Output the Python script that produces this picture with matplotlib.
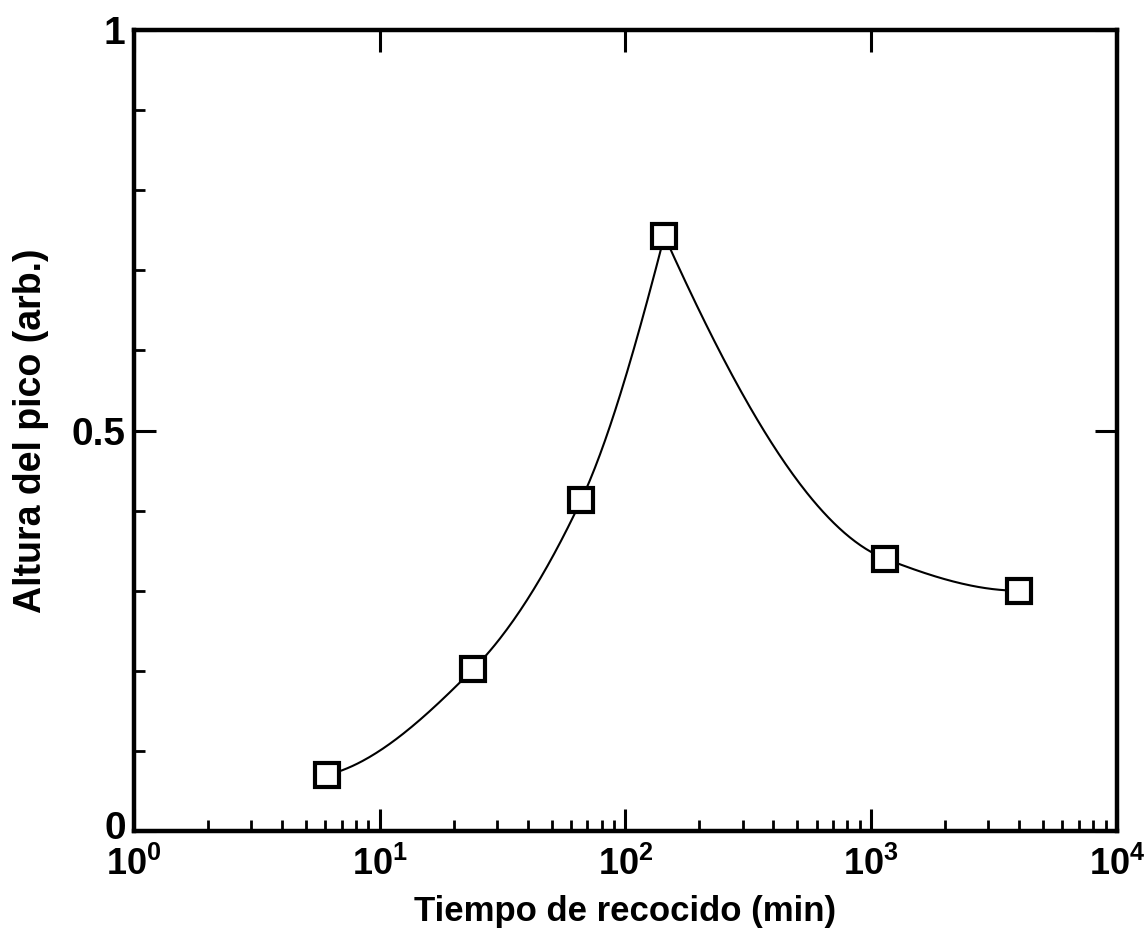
import numpy as np
import matplotlib
matplotlib.use("Agg")
import matplotlib.pyplot as plt
from matplotlib.ticker import FixedLocator
from matplotlib.transforms import ScaledTranslation

plt.rcParams['font.family'] = ['Liberation Sans', 'DejaVu Sans']
plt.rcParams['font.weight'] = 'bold'
plt.rcParams['mathtext.fontset'] = 'custom'
plt.rcParams['mathtext.rm'] = 'Liberation Sans:bold'
plt.rcParams['mathtext.default'] = 'rm'

# annealing time (min) and peak height (arb.)
tiempo = [6.1, 24, 66, 144, 1140, 4000]
altura = [0.070, 0.202, 0.413, 0.743, 0.340, 0.300]
pico = 3  # index of the maximum, curve is drawn as two monotone pieces

x_ticks = [1, 10, 100, 1000, 10000]
x_ticklabels = ['$10^{0}$', '$10^{1}$', '$10^{2}$', '$10^{3}$', '$10^{4}$']
y_ticks = [0, 0.5, 1]
y_ticklabels = ['0', '0.5', '1']


def pchip(x, y, xn):
    x = np.asarray(x, float)
    y = np.asarray(y, float)
    h = np.diff(x)
    dl = np.diff(y) / h
    n = len(x)
    d = np.zeros(n)
    for k in range(1, n - 1):
        if dl[k - 1] * dl[k] > 0:
            w1 = 2 * h[k] + h[k - 1]
            w2 = h[k] + 2 * h[k - 1]
            d[k] = (w1 + w2) / (w1 / dl[k - 1] + w2 / dl[k])

    def end(h0, h1, d0, d1):
        v = ((2 * h0 + h1) * d0 - h0 * d1) / (h0 + h1)
        if np.sign(v) != np.sign(d0):
            return 0.0
        if np.sign(d0) != np.sign(d1) and abs(v) > 3 * abs(d0):
            return 3 * d0
        return v

    d[0] = end(h[0], h[1], dl[0], dl[1])
    d[-1] = end(h[-1], h[-2], dl[-1], dl[-2])
    i = np.clip(np.searchsorted(x, xn) - 1, 0, n - 2)
    t = (xn - x[i]) / h[i]
    h00 = 2 * t**3 - 3 * t**2 + 1
    h10 = t**3 - 2 * t**2 + t
    h01 = -2 * t**3 + 3 * t**2
    h11 = t**3 - t**2
    return h00 * y[i] + h10 * h[i] * d[i] + h01 * y[i + 1] + h11 * h[i] * d[i + 1]


fig = plt.figure(figsize=(11.44, 9.35), dpi=100)
ax = fig.add_axes([0.1171, 0.1112, 0.8593, 0.8567])

lx = np.log10(tiempo)
for a, b in [(0, pico + 1), (pico, len(tiempo))]:
    xs = np.linspace(lx[a], lx[b - 1], 200)
    ax.plot(10**xs, pchip(lx[a:b], altura[a:b], xs), color='black', lw=1.5, zorder=2)

ax.plot(tiempo, altura, ls='none', marker='s', ms=17, mfc='white',
        mec='black', mew=3, zorder=3)

ax.set_xscale('log')
ax.set_xlim(1, 10000)
ax.set_ylim(0, 1)

ax.xaxis.set_major_locator(FixedLocator(x_ticks))
ax.set_xticklabels(x_ticklabels)
minors = [m * 10**e for e in range(4) for m in range(2, 10)]
ax.xaxis.set_minor_locator(FixedLocator(minors))
ax.yaxis.set_major_locator(FixedLocator(y_ticks))
ax.set_yticklabels(y_ticklabels)
ax.yaxis.set_minor_locator(FixedLocator(np.arange(0.1, 1.0, 0.1)))

ax.tick_params(which='major', direction='in', length=16, width=2.2,
               labelsize=28, top=True, right=True)
ax.tick_params(which='minor', direction='in', length=8, width=2,
               top=False, right=False)
ax.tick_params(axis='x', which='major', pad=11, labelsize=26)
ax.tick_params(axis='y', which='major', pad=6)

# lift the "0" a little so it clears the 10^0 below it
lab0 = ax.get_yticklabels()[0]
lab0.set_transform(lab0.get_transform() + ScaledTranslation(0, 4 / 72, fig.dpi_scale_trans))

for s in ax.spines.values():
    s.set_linewidth(3.2)

ax.set_xlabel('Tiempo de recocido (min)', fontsize=25, fontweight='bold', labelpad=9)
ax.set_ylabel('Altura del pico (arb.)', fontsize=27, fontweight='bold', labelpad=16)

fig.savefig('out.png', dpi=100)
